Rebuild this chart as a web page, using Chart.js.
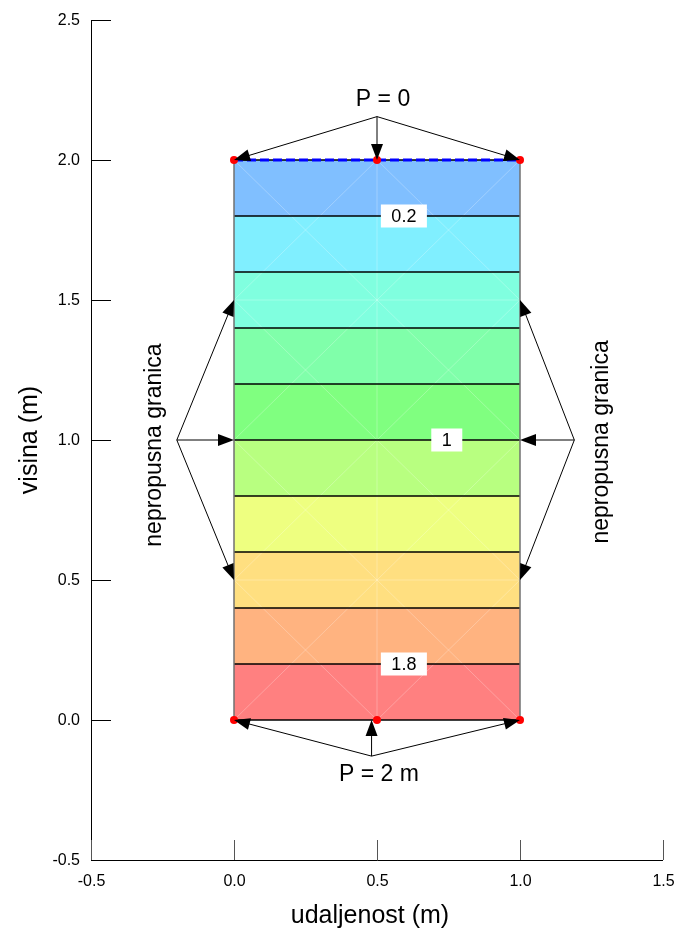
<!DOCTYPE html>
<html>
<head>
<meta charset="utf-8">
<title>visina / udaljenost</title>
<script src="https://cdn.jsdelivr.net/npm/chart.js@4.4.1/dist/chart.umd.min.js"></script>
<style>
  html, body { margin: 0; padding: 0; background: #fff; }
  #wrap { width: 675px; height: 930px; }
</style>
</head>
<body>
<div id="wrap"><canvas id="chart" width="675" height="930"></canvas></div>
<script>
/* ---- data ---- */
const xTicks = [-0.5, 0.0, 0.5, 1.0, 1.5];
const yTicks = [-0.5, 0.0, 0.5, 1.0, 1.5, 2.0, 2.5];
const levels = [0.0, 0.2, 0.4, 0.6, 0.8, 1.0, 1.2, 1.4, 1.6, 1.8, 2.0];
const bandColors = ["#FF8080", "#FFB380", "#FFDF80", "#EEFF80", "#B8FF80",
                    "#80FF80", "#80FFAA", "#80FFDF", "#80EFFF", "#80BFFF"];
const domainX = [0.0, 1.0];
const nodeX = [0.0, 0.5, 1.0];
const meshY = [0.0, 0.5, 1.0, 1.5, 2.0];
const labelText = ["0.2", "1", "1.8"];
const labelX = [0.594, 0.744, 0.594];
const labelY = [1.8, 1.0, 0.2];

const FONT = '"Liberation Sans", Arial, sans-serif';

// --- annotation layout (data coords) ---
const notes = [
  { text: "P = 0",   x: 0.521, y: 2.214, from: [0.5, 2.155], to: [[0, 2], [0.5, 2], [1, 2]] },
  { text: "P = 2 m", x: 0.507, y: -0.196, from: [0.481, -0.129], to: [[0, 0], [0.481, 0], [1, 0]] },
];
const sideNotes = [
  { x: -0.277, y: 0.982, from: [-0.2, 1.0], to: [[0, 1.5], [0, 1.0], [0, 0.5]] },
  { x: 1.287,  y: 0.993, from: [1.19, 1.0], to: [[1, 1.5], [1, 1.0], [1, 0.5]] },
];

// --- datasets ---
const seg = (x1, y1, x2, y2) => [{ x: x1, y: y1 }, { x: x2, y: y2 }];
const datasets = [];

// contour lines + filled bands
levels.forEach((h, i) => {
  datasets.push({
    data: seg(domainX[0], h, domainX[1], h),
    borderColor: "#000",
    borderWidth: 1.5,
    pointRadius: 0,
    showLine: true,
    fill: i === 0 ? false : { target: i - 1 },
    backgroundColor: i === 0 ? "transparent" : bandColors[i - 1],
    order: 5,
  });
});

// faint triangulation mesh
const mesh = [];
meshY.forEach(y => { if (y > 0 && y < 2) mesh.push(seg(0, y, 1, y)); });
mesh.push(seg(0.5, 0, 0.5, 2));
for (let j = 0; j < meshY.length - 1; j++) {
  for (let i = 0; i < nodeX.length - 1; i++) {
    mesh.push(seg(nodeX[i], meshY[j], nodeX[i + 1], meshY[j + 1]));
    mesh.push(seg(nodeX[i + 1], meshY[j], nodeX[i], meshY[j + 1]));
  }
}
mesh.forEach(d => datasets.push({
  data: d, borderColor: "rgba(255,255,255,0.25)", borderWidth: 1,
  pointRadius: 0, showLine: true, fill: false, order: 6,
}));

// side edges
[domainX[0], domainX[1]].forEach(x => datasets.push({
  data: seg(x, levels[0], x, levels[levels.length - 1]),
  borderColor: "#707070", borderWidth: 1.5, pointRadius: 0,
  showLine: true, fill: false, order: 4,
}));

// top boundary (P = 0) dashed
datasets.push({
  data: seg(domainX[0], 2.0, domainX[1], 2.0),
  borderColor: "#0000FF", borderWidth: 3, borderDash: [9, 4],
  pointRadius: 0, showLine: true, fill: false, order: 2,
});

// boundary nodes
datasets.push({
  data: nodeX.flatMap(x => [{ x, y: 2.0 }, { x, y: 0.0 }]),
  showLine: false, pointRadius: 4, pointBorderWidth: 0,
  pointBackgroundColor: "#FF0000", order: 1,
});

// --- helpers ---
function arrow(ctx, x1, y1, x2, y2) {
  const a = Math.atan2(y2 - y1, x2 - x1), len = 16, hw = 6;
  ctx.beginPath();
  ctx.moveTo(x1, y1);
  ctx.lineTo(x2 - Math.cos(a) * len * 0.8, y2 - Math.sin(a) * len * 0.8);
  ctx.stroke();
  ctx.beginPath();
  ctx.moveTo(x2, y2);
  ctx.lineTo(x2 - Math.cos(a) * len + Math.sin(a) * hw, y2 - Math.sin(a) * len - Math.cos(a) * hw);
  ctx.lineTo(x2 - Math.cos(a) * len - Math.sin(a) * hw, y2 - Math.sin(a) * len + Math.cos(a) * hw);
  ctx.closePath();
  ctx.fill();
}

const decor = {
  id: "decor",
  afterDraw(chart) {
    const { ctx, chartArea: ca } = chart;
    const sx = chart.scales.x, sy = chart.scales.y;
    const px = v => sx.getPixelForValue(v), py = v => sy.getPixelForValue(v);
    ctx.save();

    // axes
    ctx.strokeStyle = "#000";
    ctx.lineWidth = 1;
    ctx.beginPath();
    ctx.moveTo(ca.left + 0.5, ca.top);
    ctx.lineTo(ca.left + 0.5, ca.bottom + 0.5);
    ctx.lineTo(ca.right, ca.bottom + 0.5);
    ctx.stroke();

    ctx.fillStyle = "#000";
    ctx.font = "16px " + FONT;
    ctx.textAlign = "right";
    ctx.textBaseline = "middle";
    yTicks.forEach(v => {
      const y = Math.round(py(v)) + 0.5;
      ctx.beginPath(); ctx.moveTo(ca.left, y); ctx.lineTo(ca.left + 20, y); ctx.stroke();
      ctx.fillText(v.toFixed(1), ca.left - 11, y);
    });
    ctx.textAlign = "center";
    xTicks.forEach(v => {
      const x = Math.round(px(v)) + 0.5;
      ctx.strokeStyle = "#555";
      ctx.beginPath(); ctx.moveTo(x, ca.bottom); ctx.lineTo(x, ca.bottom - 20); ctx.stroke();
      ctx.fillText(v.toFixed(1), x, ca.bottom + 22);
    });

    // axis titles
    ctx.font = "25px " + FONT;
    ctx.fillText("udaljenost (m)", 370, ca.bottom + 56);
    ctx.save();
    ctx.translate(30, (ca.top + ca.bottom) / 2);
    ctx.rotate(-Math.PI / 2);
    ctx.fillText("visina (m)", 0, 0);
    ctx.restore();

    // contour labels
    ctx.font = "18px " + FONT;
    labelText.forEach((t, i) => {
      const x = px(labelX[i]), y = py(labelY[i]);
      const w = ctx.measureText(t).width + 21, h = 23;
      ctx.fillStyle = "#fff";
      ctx.fillRect(x - w / 2, y - h / 2, w, h);
      ctx.fillStyle = "#000";
      ctx.fillText(t, x, y + 1);
    });

    // boundary annotations
    ctx.strokeStyle = "#000";
    ctx.lineWidth = 1;
    ctx.font = "23px " + FONT;
    notes.forEach(n => {
      ctx.fillText(n.text, px(n.x), py(n.y));
      n.to.forEach(t => arrow(ctx, px(n.from[0]), py(n.from[1]), px(t[0]), py(t[1])));
    });
    sideNotes.forEach(n => {
      n.to.forEach(t => arrow(ctx, px(n.from[0]), py(n.from[1]), px(t[0]), py(t[1])));
      ctx.save();
      ctx.translate(px(n.x), py(n.y));
      ctx.rotate(-Math.PI / 2);
      ctx.fillText("nepropusna granica", 0, 0);
      ctx.restore();
    });

    ctx.restore();
  },
};

new Chart(document.getElementById("chart"), {
  type: "scatter",
  data: { datasets },
  options: {
    responsive: false,
    animation: false,
    layout: { padding: { left: 91, right: 12, top: 20, bottom: 70 } },
    scales: {
      x: { type: "linear", min: -0.5, max: 1.5, display: false },
      y: { type: "linear", min: -0.5, max: 2.5, display: false },
    },
    plugins: {
      legend: { display: false },
      tooltip: { enabled: false },
      filler: { drawTime: "beforeDatasetsDraw" },
    },
  },
  plugins: [decor],
});
</script>
</body>
</html>
